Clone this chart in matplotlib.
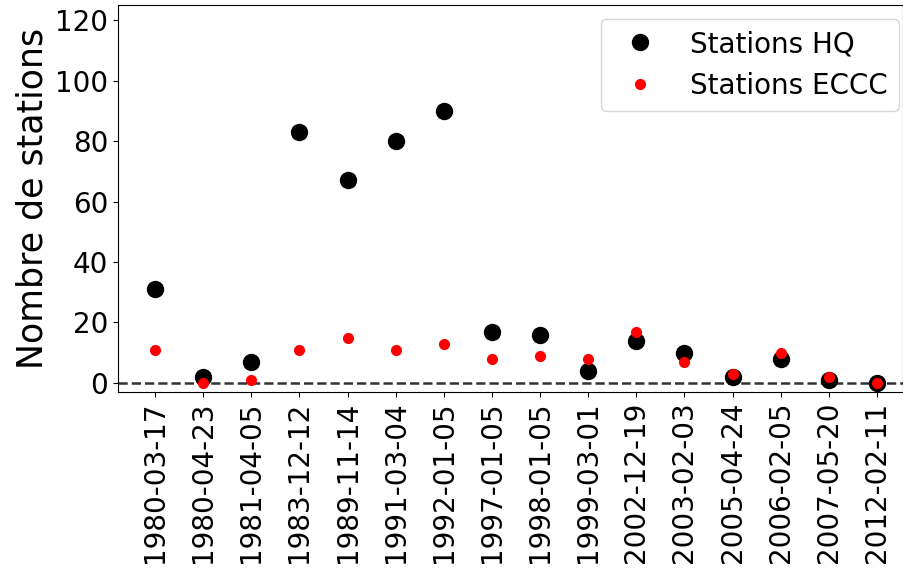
import numpy as np
import matplotlib.pyplot as plt

# données
dates = ['1980-03-17', '1980-04-23', '1981-04-05', '1983-12-12', '1989-11-14',
         '1991-03-04', '1992-01-05', '1997-01-05', '1998-01-05', '1999-03-01',
         '2002-12-19', '2003-02-03', '2005-04-24', '2006-02-05', '2007-05-20',
         '2012-02-11']
hq = [31, 2, 7, 83, 67, 80, 90, 17, 16, 4, 14, 10, 2, 8, 1, 0]
eccc = [11, 0, 1, 11, 15, 11, 13, 8, 9, 8, 17, 7, 3, 10, 2, 0]

x = np.arange(len(dates))

fig = plt.figure(figsize=(9.04, 5.75), dpi=100)
ax = fig.add_axes([118 / 904, 183 / 575, 785 / 904, 387 / 575])

ax.plot(x, hq, 'o', color='black', markersize=11.5, label='Stations HQ')
ax.plot(x, eccc, 'o', color='red', markersize=7, label='Stations ECCC')
ax.axhline(0, color='#333333', linestyle='--', linewidth=1.8, zorder=0)

ax.set_xlim(-0.77, 15.54)
ax.set_ylim(-3, 125)
ax.set_xticks(x)
ax.set_xticklabels(dates, rotation=90, fontsize=20)
ax.set_yticks(np.arange(0, 121, 20))
ax.tick_params(axis='y', labelsize=20)
ax.set_ylabel('Nombre de stations', fontsize=25)
ax.legend(loc='upper right', bbox_to_anchor=(1.012, 1.0), fontsize=20)

fig.savefig('out.png', dpi=100)
